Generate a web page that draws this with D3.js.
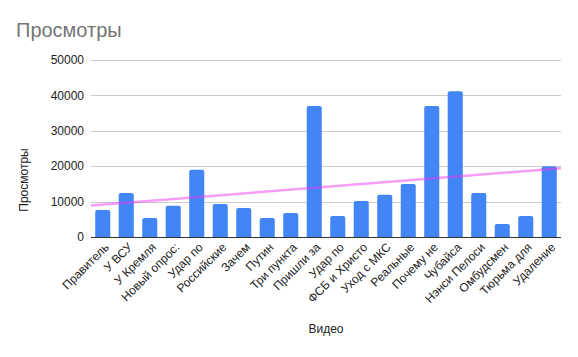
<!DOCTYPE html>
<html><head><meta charset="utf-8">
<script src="https://cdn.jsdelivr.net/npm/d3@7"></script>
<style>body{margin:0;background:#fff}svg{display:block}text{font-family:"Liberation Sans",Arial,sans-serif}</style>
</head><body>
<svg id="c" width="578" height="357"></svg>
<script>
const categories = ["Правитель","У ВСУ","У Кремля","Новый опрос:","Удар по","Российские","Зачем","Путин","Три пункта","Пришли за","Удар по","ФСБ и Христо","Уход с МКС","Реальные","Почему не","Чубайса","Нэнси Пелоси","Омбудсмен","Тюрьма для","Удаление"];
const views = [7600,12400,5400,8800,19000,9300,8200,5400,6800,37000,5900,10200,11900,15000,37000,41200,12400,3700,5900,20000];
const yTicks = [0,10000,20000,30000,40000,50000];
const title = "Просмотры", yTitle = "Просмотры", xTitle = "Видео";

const svg = d3.select("#c");
const L = 91, R = 561, T = 60, B = 237;
const idx = d3.range(categories.length);
const x = d3.scaleBand().domain(idx).range([L, R]).paddingInner(0.36).paddingOuter(0.18);
const y = d3.scaleLinear().domain([0, 50000]).range([B, T]);

svg.append("text").attr("x",16).attr("y",37).attr("font-size",20).attr("fill","#757575").text(title);

// grid
svg.append("g").selectAll("line").data(yTicks.slice(1)).join("line")
  .attr("x1",L).attr("x2",R).attr("y1",d=>Math.round(y(d))+0.5).attr("y2",d=>Math.round(y(d))+0.5)
  .attr("stroke","#cccccc").attr("stroke-width",1);
svg.append("g").selectAll("text").data(yTicks).join("text")
  .attr("x",84).attr("y",d=>y(d)).attr("dy","0.35em").attr("text-anchor","end")
  .attr("font-size",12).attr("fill","#222").text(d=>d);

// bars
const r = 2;
svg.append("g").selectAll("path").data(idx).join("path")
  .attr("fill","#4285f4")
  .attr("d", i => {
    const x0 = x(i), w = x.bandwidth(), y0 = y(views[i]), y1 = y(0);
    return `M${x0},${y1}V${y0+r}Q${x0},${y0} ${x0+r},${y0}H${x0+w-r}Q${x0+w},${y0} ${x0+w},${y0+r}V${y1}Z`;
  });

// axis baseline
svg.append("line").attr("x1",L).attr("x2",R).attr("y1",B+0.5).attr("y2",B+0.5).attr("stroke","#333").attr("stroke-width",1);

// trendline (least squares on index)
const n = views.length, xs = idx.map(i=>i+1);
const mx = d3.mean(xs), my = d3.mean(views);
const slope = d3.sum(xs.map((xi,k)=>(xi-mx)*(views[k]-my))) / d3.sum(xs.map(xi=>(xi-mx)**2));
const icpt = my - slope*mx;
const step = x.step();
const xPos = t => x(0) + x.bandwidth()/2 + (t-1)*step;
const t0 = 1 + (L - xPos(1))/step, t1 = 1 + (R - xPos(1))/step;
svg.append("line")
  .attr("x1",L).attr("y1",y(icpt+slope*t0)).attr("x2",R).attr("y2",y(icpt+slope*t1))
  .attr("stroke","rgb(238,60,240)").attr("stroke-opacity",0.5).attr("stroke-width",2.5);

// x labels
svg.append("g").selectAll("text").data(idx).join("text")
  .attr("transform", i => `translate(${x(i)+x.bandwidth()/2+4},${B+8}) rotate(-45)`)
  .attr("text-anchor","end").attr("dy","0.35em").attr("font-size",12).attr("fill","#222")
  .text(i=>categories[i]);

svg.append("text").attr("x",326).attr("y",333).attr("text-anchor","middle").attr("font-size",12).attr("fill","#222").text(xTitle);
svg.append("text").attr("transform","translate(28,180) rotate(-90)").attr("text-anchor","middle").attr("font-size",12).attr("fill","#222").text(yTitle);
</script>
</body></html>
